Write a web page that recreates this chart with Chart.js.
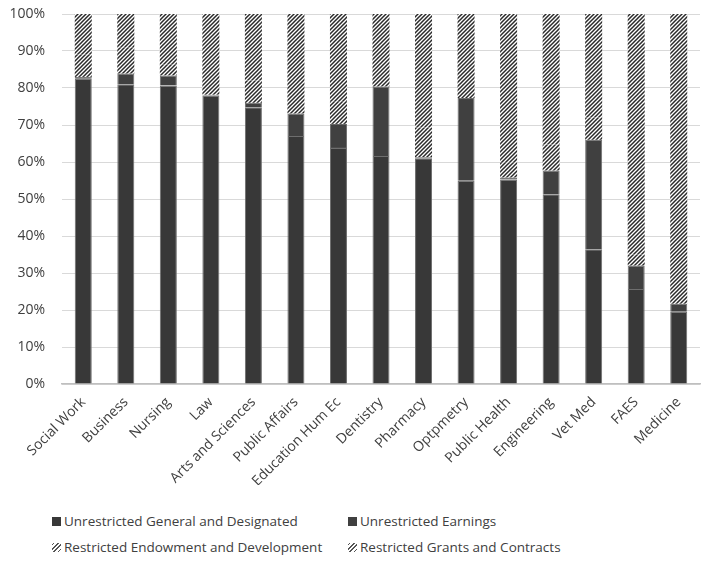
<!DOCTYPE html>
<html>
<head>
<meta charset="utf-8">
<script src="https://cdn.jsdelivr.net/npm/chart.js@4"></script>
<style>
    body { margin: 0; background: #fff; font-family: "Open Sans", sans-serif; }
    #wrap { width: 704px; height: 485px; }
    .legend { display: grid; grid-template-columns: 296px 300px; padding-left: 52px; row-gap: 8px; margin-top: 27px; }
    .legend div { font-size: 13.5px; color: #404040; display: flex; align-items: center; height: 18px; white-space: nowrap; }
    .sw { width: 9px; height: 9px; margin-right: 3px; display: inline-block; }
    .solid1 { background: #383838; }
    .solid2 { background: #404040; }
    .hatch { background: repeating-linear-gradient(135deg, #fff 0 1px, #555 1px 2px, #fff 2px 3px); }
</style>
</head>
<body>
<div id="wrap"><canvas id="myChart" width="704" height="485"></canvas></div>
<div class="legend">
    <div><span class="sw solid1"></span>Unrestricted General and Designated</div>
    <div><span class="sw solid2"></span>Unrestricted Earnings</div>
    <div><span class="sw hatch"></span>Restricted Endowment and Development</div>
    <div><span class="sw hatch"></span>Restricted Grants and Contracts</div>
</div>
<script>
var colleges = ["Social Work", "Business", "Nursing", "Law", "Arts and Sciences", "Public Affairs", "Education Hum Ec", "Dentistry", "Pharmacy", "Optpmetry", "Public Health", "Engineering", "Vet Med", "FAES", "Medicine"];
var generalDesignated = [82.5, 81, 80.7, 78, 74.8, 67, 63.8, 61.6, 61, 54.9, 55.3, 51.3, 36.4, 25.7, 19.5];
var earnings = [0.5, 2.9, 2.7, 0.2, 1.2, 6.1, 6.5, 18.8, 0.3, 22.4, 0.5, 6.4, 29.6, 6.3, 2.2];
var endowment = [6, 7, 3, 8, 6, 5, 6, 5, 8, 3, 4, 7, 6, 3, 4];
var grants = [11, 9.1, 13.6, 13.8, 18, 21.9, 23.7, 14.6, 30.7, 19.7, 40.2, 35.3, 28, 65, 74.3];
var yTicks = [0, 10, 20, 30, 40, 50, 60, 70, 80, 90, 100];

// striped fill like excel's wide upward diagonal
const makeHatch = () => {
    const c = document.createElement('canvas');
    c.width = 4; c.height = 4;
    const g = c.getContext('2d');
    g.fillStyle = '#fff';
    g.fillRect(0, 0, 4, 4);
    g.strokeStyle = '#2a2a2a';
    g.lineWidth = 1.5;
    g.beginPath();
    g.moveTo(0, 4); g.lineTo(4, 0);
    g.moveTo(-1, 1); g.lineTo(1, -1);
    g.moveTo(3, 5); g.lineTo(5, 3);
    g.stroke();
    return g.createPattern(c, 'repeat');
};
var hatch = makeHatch();

new Chart("myChart", {
    type: "bar",
    data: {
        labels: colleges,
        datasets: [
            { label: "Unrestricted General and Designated", data: generalDesignated, backgroundColor: "#383838", borderColor: "#6e6e6e", borderWidth: 1 },
            { label: "Unrestricted Earnings", data: earnings, backgroundColor: "#404040", borderColor: "#6e6e6e", borderWidth: 1 },
            { label: "Restricted Endowment and Development", data: endowment, backgroundColor: hatch, borderWidth: 0 },
            { label: "Restricted Grants and Contracts", data: grants, backgroundColor: hatch, borderWidth: 0 }
        ]
    },
    options: {
        responsive: false,
        animation: false,
        layout: { padding: { top: 14, right: 4, left: 0, bottom: 0 } },
        datasets: { bar: { categoryPercentage: 1, barPercentage: 0.4 } },
        plugins: { legend: { display: false }, tooltip: { enabled: false } },
        scales: {
            x: {
                stacked: true,
                grid: { display: false },
                border: { color: "#bfbfbf", width: 1.5 },
                ticks: { color: "#404040", font: { family: "Open Sans", size: 14 }, minRotation: 45, maxRotation: 45, autoSkip: false, padding: 2 },
                afterFit: (s) => { s.height = 101; }
            },
            y: {
                stacked: true,
                min: 0,
                max: 100,
                afterBuildTicks: (s) => { s.ticks = yTicks.map(v => ({ value: v })); },
                grid: { color: "#d9d9d9", drawTicks: false },
                border: { display: false },
                ticks: { color: "#404040", font: { family: "Open Sans", size: 14 }, padding: 17, callback: (v) => v + '%' },
                afterFit: (s) => { s.width = 62; s.paddingTop = 0; s.paddingBottom = 0; }
            }
        }
    }
});
</script>
</body>
</html>
